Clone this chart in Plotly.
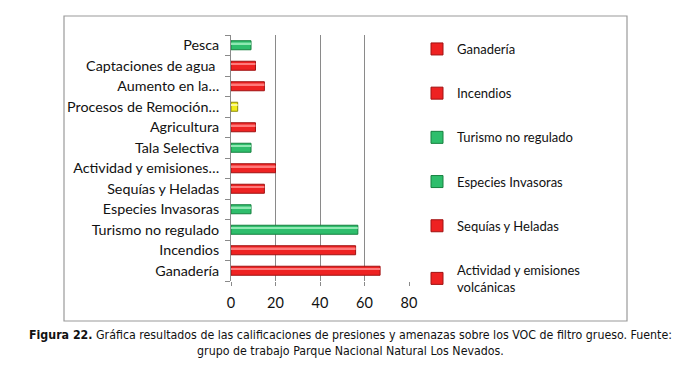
import plotly.graph_objects as go

categories = ["Ganadería", "Incendios", "Turismo no regulado", "Especies Invasoras",
              "Sequías y Heladas", "Actividad y emisiones…", "Tala Selectiva",
              "Agricultura", "Procesos de Remoción…", "Aumento en la…",
              "Captaciones de agua ", "Pesca"]
values = [67, 56, 57, 9, 15, 20, 9, 11, 3, 15, 11, 9]
kinds = ["r", "r", "g", "g", "r", "r", "g", "r", "y", "r", "r", "g"]
legend_names = ["Ganadería", "Incendios", "Turismo no regulado", "Especies Invasoras",
                "Sequías y Heladas", "Actividad y emisiones<br>volcánicas"]
x_ticks = [0, 20, 40, 60, 80]

fill = {"r": "#EE2222", "g": "#2EBE6C", "y": "#F0EC1A"}
edge = {"r": "#A01212", "g": "#16803F", "y": "#8C8A08"}
shine = {"r": "#FF7A7A", "g": "#8FE8B2", "y": "#FBF99A"}

fig = go.Figure()
for i, (c, v, k) in enumerate(zip(categories, values, kinds)):
    fig.add_trace(go.Bar(
        y=[c], x=[v], orientation="h",
        name=legend_names[i] if i < len(legend_names) else c,
        showlegend=i < len(legend_names),
        legendgroup=f"g{i}",
        marker=dict(color=fill[k], line=dict(color=edge[k], width=1)),
        width=0.44,
    ))
for i, (c, v, k) in enumerate(zip(categories, values, kinds)):
    fig.add_trace(go.Bar(
        y=[c], x=[v], orientation="h", showlegend=False, hoverinfo="skip",
        marker=dict(color=shine[k], line=dict(width=0)),
        width=0.07, offset=0.06,
    ))

# page body has an 8px margin; design in screen coordinates and shift
OFF = 8
W, H = 691 - OFF, 372 - OFF
L, R, T, B = 231 - OFF, 409 - OFF, 35 - OFF, 281 - OFF
pw, ph = R - L, B - T

def px(x):
    return (x - OFF - L) / pw

def py(y):
    return (B - (y - OFF)) / ph

fig.update_layout(
    width=W, height=H,
    margin=dict(l=L, r=W - R, t=T, b=H - B, autoexpand=False),
    paper_bgcolor="white", plot_bgcolor="white",
    barmode="overlay",
    font=dict(family="Lato, Open Sans, sans-serif", size=13, color="#111"),
    showlegend=True,
    legend=dict(x=px(417), y=py(34), xanchor="left", yanchor="top",
                tracegroupgap=24.3, font=dict(size=13),
                itemwidth=30, bgcolor="rgba(0,0,0,0)", maxheight=372),
    xaxis=dict(range=[0, 80], tickvals=x_ticks, showgrid=True, gridcolor="#8a8a8a",
               gridwidth=1, zeroline=False, showline=False, ticks="outside",
               ticklen=4, tickcolor="#8a8a8a", tickfont=dict(size=14.5),
               fixedrange=True, automargin=False, ticklabelstandoff=5),
    yaxis=dict(type="category", categoryorder="array", categoryarray=categories,
               showline=True, linecolor="#8a8a8a", linewidth=1, ticks="outside",
               tickson="boundaries", ticklen=5, tickcolor="#8a8a8a",
               tickfont=dict(size=14.3), showgrid=False, automargin=False,
               ticklabelstandoff=8),
    shapes=[dict(type="rect", xref="paper", yref="paper",
                 x0=px(64), x1=px(627), y0=py(321), y1=py(16),
                 line=dict(color="#9a9a9a", width=1.2), fillcolor="rgba(0,0,0,0)",
                 layer="below")],
    annotations=[dict(xref="paper", yref="paper", x=px(350), y=py(326),
                      xanchor="center", yanchor="top", showarrow=False,
                      align="center",
                      text="<b>Figura 22.</b> Gráfica resultados de las calificaciones de presiones y amenazas sobre los VOC de filtro grueso. Fuente:<br>grupo de trabajo Parque Nacional Natural Los Nevados.",
                      font=dict(family="DejaVu Sans Condensed, Liberation Sans Narrow, sans-serif",
                                size=12.3, color="#111"))],
)

fig.write_html("out.html")
